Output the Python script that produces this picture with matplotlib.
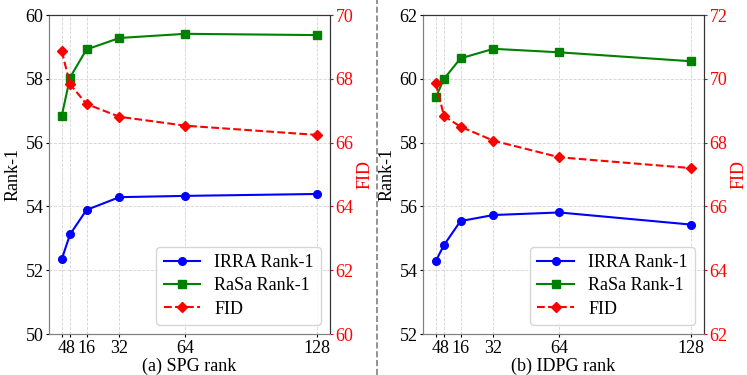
import matplotlib
matplotlib.use("Agg")
import matplotlib.pyplot as plt
from matplotlib.lines import Line2D

plt.rcParams['font.family'] = ['Liberation Serif', 'DejaVu Serif']
plt.rcParams['font.size'] = 13

ranks = [4, 8, 16, 32, 64, 128]

# (a) SPG rank
spg_irra = [52.35, 53.12, 53.89, 54.29, 54.33, 54.39]
spg_rasa = [56.84, 58.04, 58.92, 59.28, 59.41, 59.37]
spg_fid = [68.87, 67.83, 67.21, 66.81, 66.53, 66.24]

# (b) IDPG rank
idpg_irra = [54.29, 54.79, 55.54, 55.73, 55.81, 55.43]
idpg_rasa = [59.42, 60.00, 60.64, 60.94, 60.83, 60.55]
idpg_fid = [69.86, 68.83, 68.50, 68.06, 67.54, 67.20]


def draw_panel(ax, irra, rasa, fid, ylim1, ylim2, xlabel):
    l1, = ax.plot(ranks, irra, color='blue', marker='o', markersize=5.5, lw=1.5, label='IRRA Rank-1')
    l2, = ax.plot(ranks, rasa, color='green', marker='s', markersize=5.5, lw=1.5, label='RaSa Rank-1')
    ax.set_ylim(*ylim1)
    ax.set_yticks(range(ylim1[0], ylim1[1] + 1, 2))
    ax.set_ylabel("Rank-1", fontsize=13, labelpad=3)
    ax.set_xlabel(xlabel, fontsize=13, labelpad=1)
    ax.set_xticks(ranks)
    ax.set_xticklabels([str(r) for r in ranks])
    ax.tick_params(labelsize=13, length=2, pad=2)
    ax.grid(True, linestyle='--', color='lightgray', linewidth=0.6)

    ax2 = ax.twinx()
    l3, = ax2.plot(ranks, fid, color='red', marker='D', markersize=5.5, lw=1.5, linestyle='--', label='FID')
    ax2.set_ylim(*ylim2)
    ax2.set_yticks(range(ylim2[0], ylim2[1] + 1, 2))
    ax2.set_ylabel("FID", color='red', fontsize=13, labelpad=2)
    ax2.tick_params(axis='y', colors='red', labelsize=13, length=2, pad=2)
    for a in (ax, ax2):
        a.spines['left'].set_color('gray')
        a.spines['bottom'].set_color('gray')
        a.spines['top'].set_color('#333333')
        a.spines['right'].set_color('#333333')
    ax2.legend(handles=[l1, l2, l3], loc='lower right', fontsize=13, labelspacing=0.35)


fig = plt.figure(figsize=(7.47, 3.75), dpi=100)
ax_a = fig.add_axes([0.0656, 0.1093, 0.3762, 0.8507])
ax_b = fig.add_axes([0.5663, 0.1093, 0.3760, 0.8507])

draw_panel(ax_a, spg_irra, spg_rasa, spg_fid, (50, 60), (60, 70), "(a) SPG rank")
draw_panel(ax_b, idpg_irra, idpg_rasa, idpg_fid, (52, 62), (62, 72), "(b) IDPG rank")

fig.add_artist(Line2D([0.5047, 0.5047], [0.0, 1.0], transform=fig.transFigure,
                      color='gray', linestyle='--', linewidth=1.2))

fig.savefig("out.png", dpi=100)
